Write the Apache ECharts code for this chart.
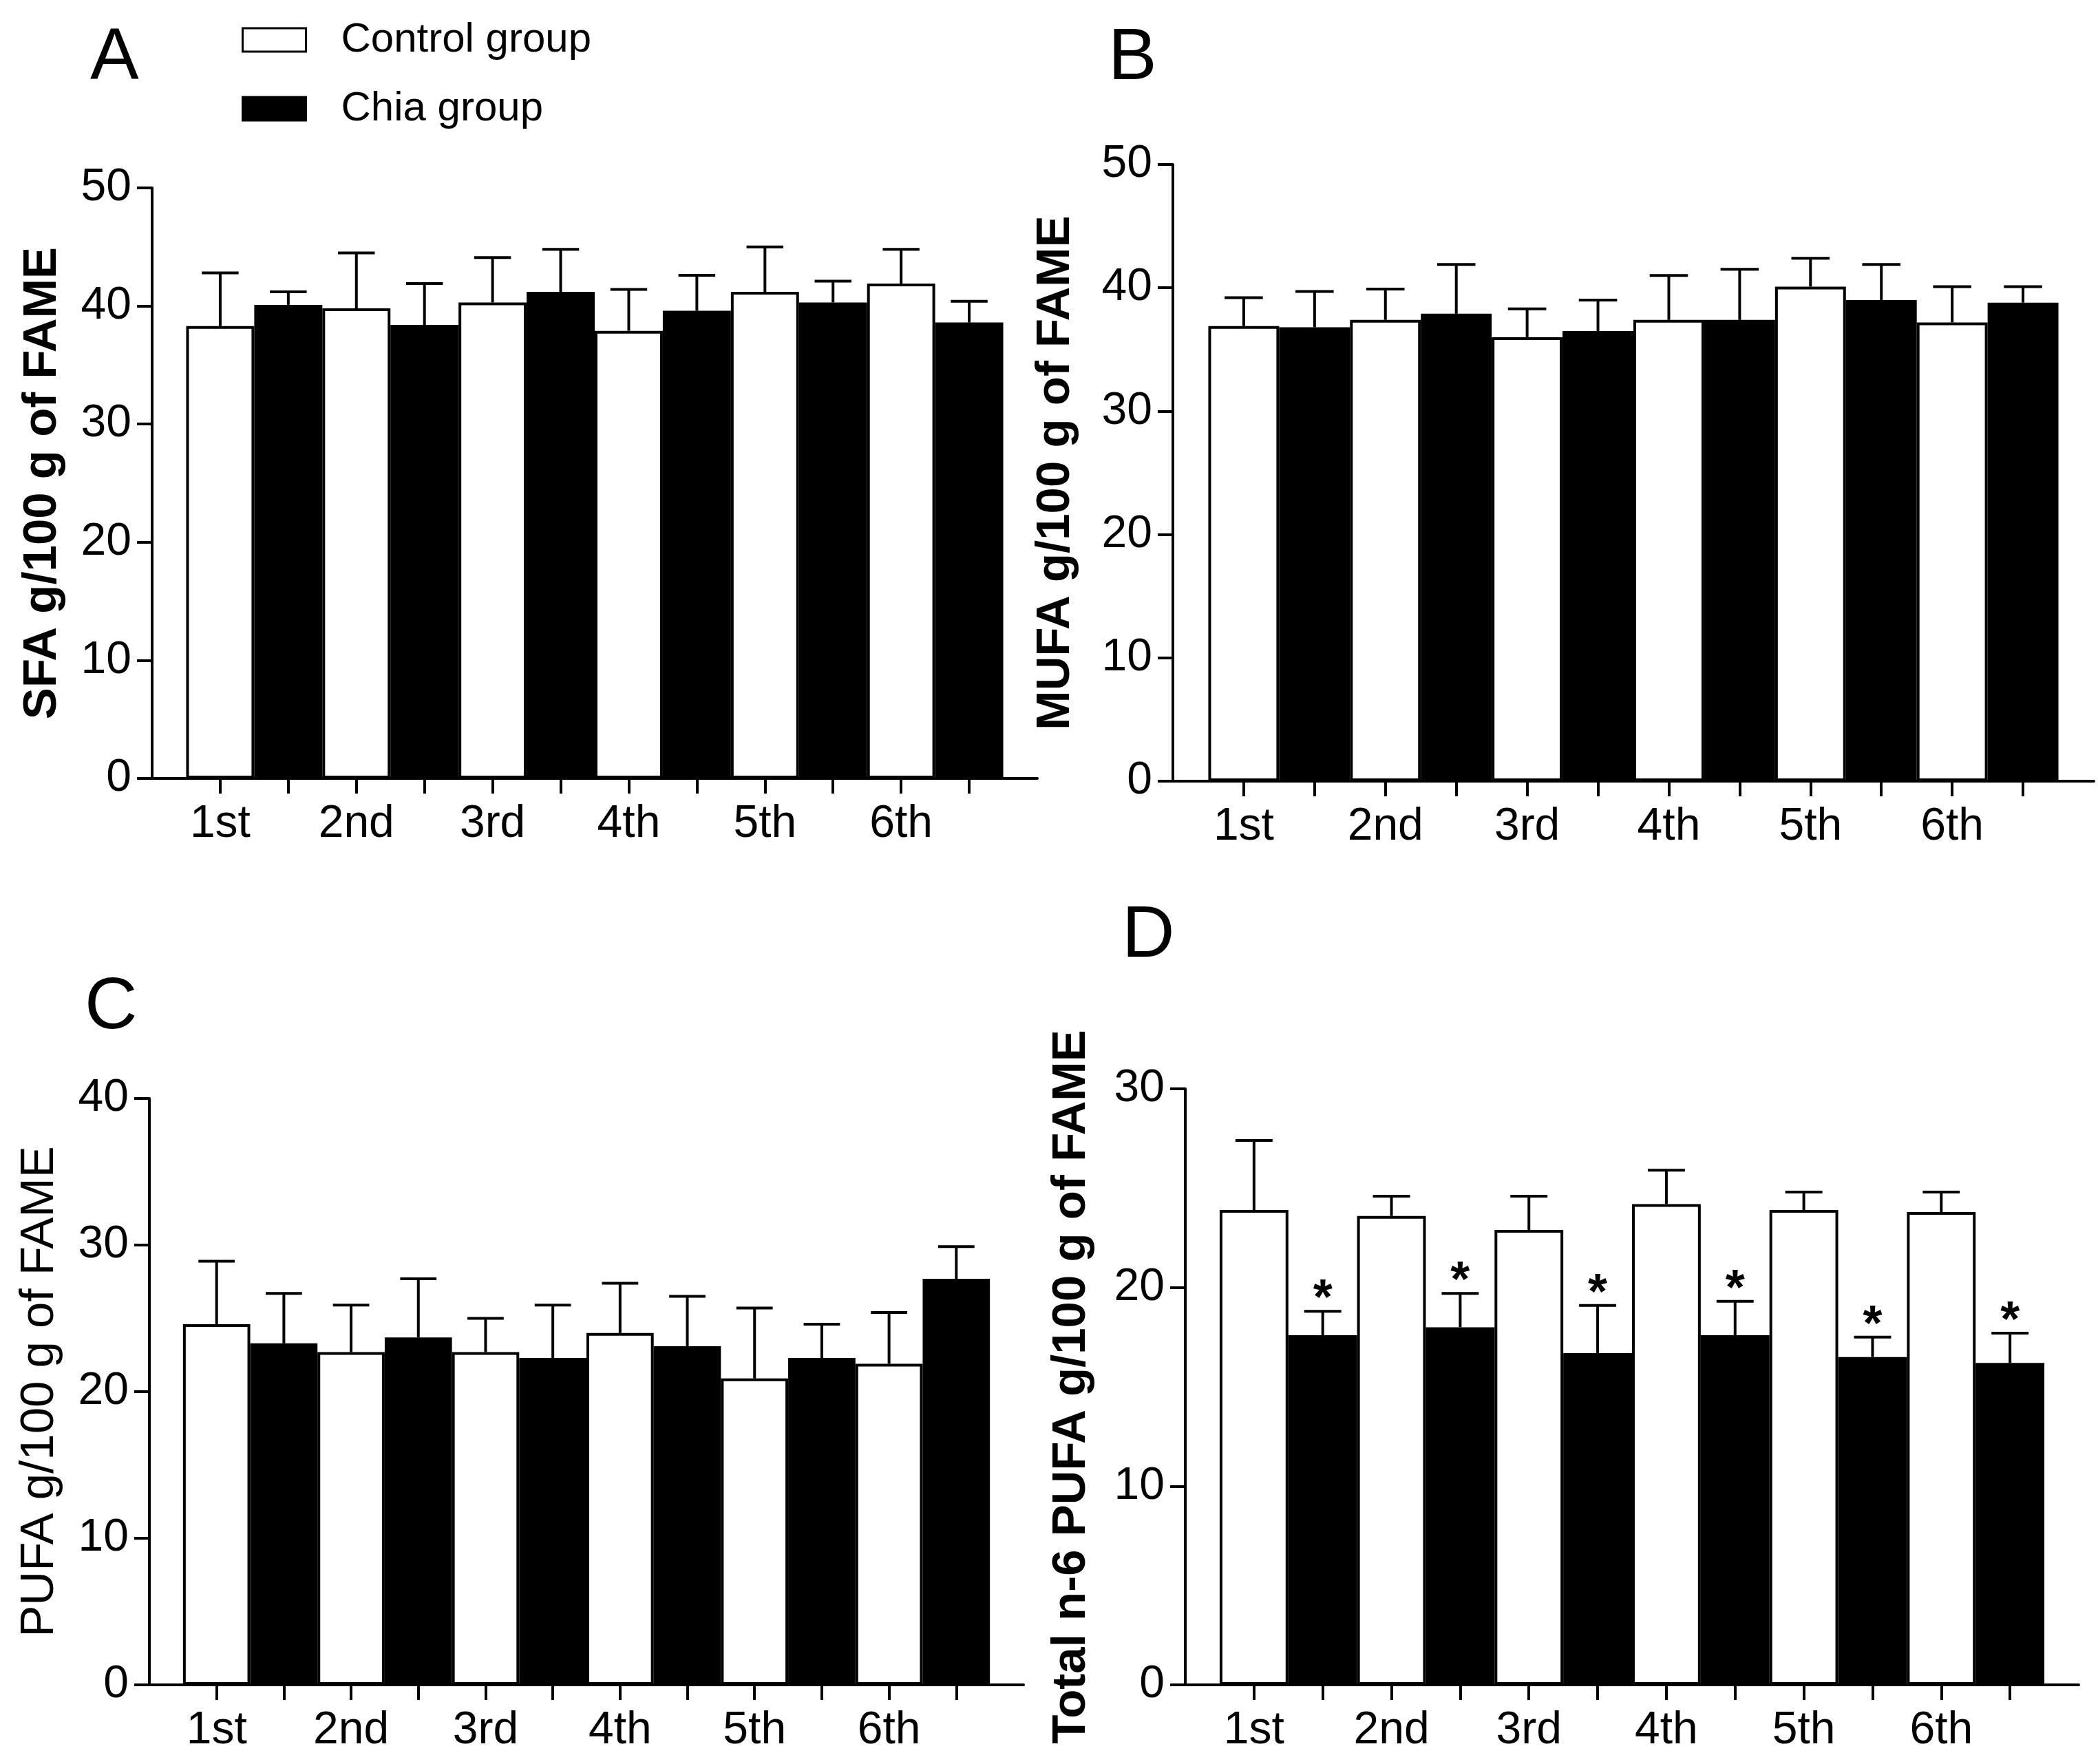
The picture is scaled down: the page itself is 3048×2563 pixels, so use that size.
<!DOCTYPE html>
<html><head><meta charset="utf-8">
<script src="https://cdn.jsdelivr.net/npm/echarts@6/dist/echarts.min.js"></script>
<style>html,body{margin:0;padding:0;background:#fff}#c{width:3048px;height:2563px}</style>
</head><body><div id="c"></div>
<script>
// ---- data ----
const periods = ['1st', '2nd', '3rd', '4th', '5th', '6th'];
const seriesNames = ['Control group', 'Chia group'];

const sfaControl = [38.3, 39.8, 40.3, 37.9, 41.2, 41.9];
const sfaControlSD = [4.5, 4.7, 3.8, 3.5, 3.8, 2.9];
const sfaChia = [40.1, 38.4, 41.2, 39.6, 40.3, 38.6];
const sfaChiaSD = [1.1, 3.5, 3.6, 3.0, 1.8, 1.8];

const mufaControl = [36.9, 37.4, 36.0, 37.4, 40.1, 37.2];
const mufaControlSD = [2.3, 2.5, 2.3, 3.6, 2.3, 2.9];
const mufaChia = [36.8, 37.9, 36.5, 37.4, 39.0, 38.8];
const mufaChiaSD = [2.9, 4.0, 2.5, 4.1, 2.9, 1.3];

const pufaControl = [24.6, 22.7, 22.7, 24.0, 20.9, 21.9];
const pufaControlSD = [4.3, 3.2, 2.3, 3.4, 4.8, 3.5];
const pufaChia = [23.3, 23.7, 22.3, 23.1, 22.3, 27.7];
const pufaChiaSD = [3.4, 4.0, 3.6, 3.4, 2.3, 2.2];

const n6Control = [23.9, 23.6, 22.9, 24.2, 23.9, 23.8];
const n6ControlSD = [3.5, 1.0, 1.7, 1.7, 0.9, 1.0];
const n6Chia = [17.6, 18.0, 16.7, 17.6, 16.5, 16.2];
const n6ChiaSD = [1.2, 1.7, 2.4, 1.7, 1.0, 1.5];
const n6ChiaSignificant = [true, true, true, true, true, true];

const yTicksA = [0, 50, 10];
const yTicksB = [0, 50, 10];
const yTicksC = [0, 40, 10];
const yTicksD = [0, 30, 10];

// ---- layout ----
const FONT = '"Liberation Sans", Arial, sans-serif';
const panels = [
  { letter: 'A', title: 'SFA g/100 g of FAME', bold: true, ticks: yTicksA,
    ctrl: sfaControl, ctrlSD: sfaControlSD, chia: sfaChia, chiaSD: sfaChiaSD, sig: null,
    grid: { left: 221, right: 1541, top: 273, bottom: 1432 }, nameGap: 125,
    letterPos: { left: 131, top: 32 } },
  { letter: 'B', title: 'MUFA g/100 g of FAME', bold: true, ticks: yTicksB,
    ctrl: mufaControl, ctrlSD: mufaControlSD, chia: mufaChia, chiaSD: mufaChiaSD, sig: null,
    grid: { left: 1704, right: 6, top: 239, bottom: 1428 }, nameGap: 136,
    letterPos: { left: 1610, top: 33 } },
  { letter: 'C', title: 'PUFA g/100 g of FAME', bold: false, ticks: yTicksC,
    ctrl: pufaControl, ctrlSD: pufaControlSD, chia: pufaChia, chiaSD: pufaChiaSD, sig: null,
    grid: { left: 217, right: 1561, top: 1596, bottom: 115 }, nameGap: 125,
    letterPos: { left: 123, top: 1412 } },
  { letter: 'D', title: 'Total n-6 PUFA g/100 g of FAME', bold: true, ticks: yTicksD,
    ctrl: n6Control, ctrlSD: n6ControlSD, chia: n6Chia, chiaSD: n6ChiaSD, sig: n6ChiaSignificant,
    grid: { left: 1722, right: 28, top: 1582, bottom: 115 }, nameGap: 131,
    letterPos: { left: 1630, top: 1308 } }
];

// category axis: one slot per bar plus an empty slot at each end
const axisCats = [''];
periods.forEach(p => { axisCats.push(p); axisCats.push(''); });
axisCats.push('');
const nCats = axisCats.length;

const grids = [], xAxes = [], yAxes = [], series = [], titles = [];
const black = '#000';

function errRender(params, api) {
  const x = api.value(0), m = api.value(1), sd = api.value(2), star = api.value(3);
  const p0 = api.coord([x, m]);
  const p1 = api.coord([x, m + sd]);
  const bw = api.size([1, 0])[0];
  const hw = bw * 0.27;
  const children = [
    { type: 'line', shape: { x1: p0[0], y1: p0[1], x2: p1[0], y2: p1[1] },
      style: { stroke: black, lineWidth: 4 } },
    { type: 'line', shape: { x1: p1[0] - hw, y1: p1[1], x2: p1[0] + hw, y2: p1[1] },
      style: { stroke: black, lineWidth: 4 } }
  ];
  if (star) {
    children.push({ type: 'text', x: p1[0], y: p1[1] - 16,
      style: { text: '*', fontSize: 72, fontWeight: 'bold', fontFamily: FONT,
        fill: black, align: 'center', verticalAlign: 'middle' } });
  }
  return { type: 'group', children: children };
}

panels.forEach((pn, i) => {
  grids.push(Object.assign({ containLabel: false, outerBoundsMode: 'none' }, pn.grid));
  xAxes.push({
    type: 'category', gridIndex: i, data: axisCats, boundaryGap: false,
    axisLine: { lineStyle: { color: black, width: 4 } },
    axisTick: { length: 22, lineStyle: { color: black, width: 4 },
      interval: (idx) => idx > 0 && idx < nCats - 1 },
    axisLabel: { interval: 0, fontSize: 66, color: black, margin: 34, fontFamily: FONT },
    splitLine: { show: false }
  });
  yAxes.push({
    type: 'value', gridIndex: i, min: pn.ticks[0], max: pn.ticks[1], interval: pn.ticks[2],
    name: pn.title, nameLocation: 'middle', nameRotate: 90, nameGap: pn.nameGap,
    nameTextStyle: { fontSize: 69, fontWeight: pn.bold ? 'bold' : 'normal', color: black, fontFamily: FONT },
    axisLine: { show: true, lineStyle: { color: black, width: 4 } },
    axisTick: { show: true, length: 22, lineStyle: { color: black, width: 4 } },
    axisLabel: { fontSize: 66, color: black, margin: 30, fontFamily: FONT },
    splitLine: { show: false }
  });
  titles.push({ text: pn.letter, left: pn.letterPos.left, top: pn.letterPos.top, padding: 0,
    textStyle: { fontSize: 106, fontWeight: 'normal', color: black, fontFamily: FONT } });

  const ctrlData = axisCats.map(() => '-');
  const chiaData = axisCats.map(() => '-');
  const errData = [];
  periods.forEach((p, k) => {
    ctrlData[1 + 2 * k] = pn.ctrl[k];
    chiaData[2 + 2 * k] = pn.chia[k];
    errData.push([1 + 2 * k, pn.ctrl[k], pn.ctrlSD[k], 0]);
    errData.push([2 + 2 * k, pn.chia[k], pn.chiaSD[k], pn.sig && pn.sig[k] ? 1 : 0]);
  });
  series.push({
    name: seriesNames[0], type: 'bar', xAxisIndex: i, yAxisIndex: i, data: ctrlData,
    barWidth: '100%', barGap: '-100%',
    itemStyle: { color: '#fff', borderColor: black, borderWidth: 4 }
  });
  series.push({
    name: seriesNames[1], type: 'bar', xAxisIndex: i, yAxisIndex: i, data: chiaData,
    barWidth: '100%', barGap: '-100%',
    itemStyle: { color: black, borderColor: black, borderWidth: 4 }
  });
  series.push({
    type: 'custom', xAxisIndex: i, yAxisIndex: i, data: errData, z: 5,
    renderItem: errRender
  });
});

const chart = echarts.init(document.getElementById('c'));
chart.setOption({
  animation: false,
  backgroundColor: '#fff',
  title: titles,
  legend: {
    data: seriesNames, orient: 'vertical', left: 351, top: 28, padding: 0,
    itemWidth: 92, itemHeight: 34, itemGap: 40, icon: 'rect',
    itemStyle: { borderColor: black, borderWidth: 3 },
    textStyle: { fontSize: 60, color: black, fontFamily: FONT, lineHeight: 34, padding: [0, 0, 0, 46] }
  },
  grid: grids, xAxis: xAxes, yAxis: yAxes, series: series
});
</script></body></html>
